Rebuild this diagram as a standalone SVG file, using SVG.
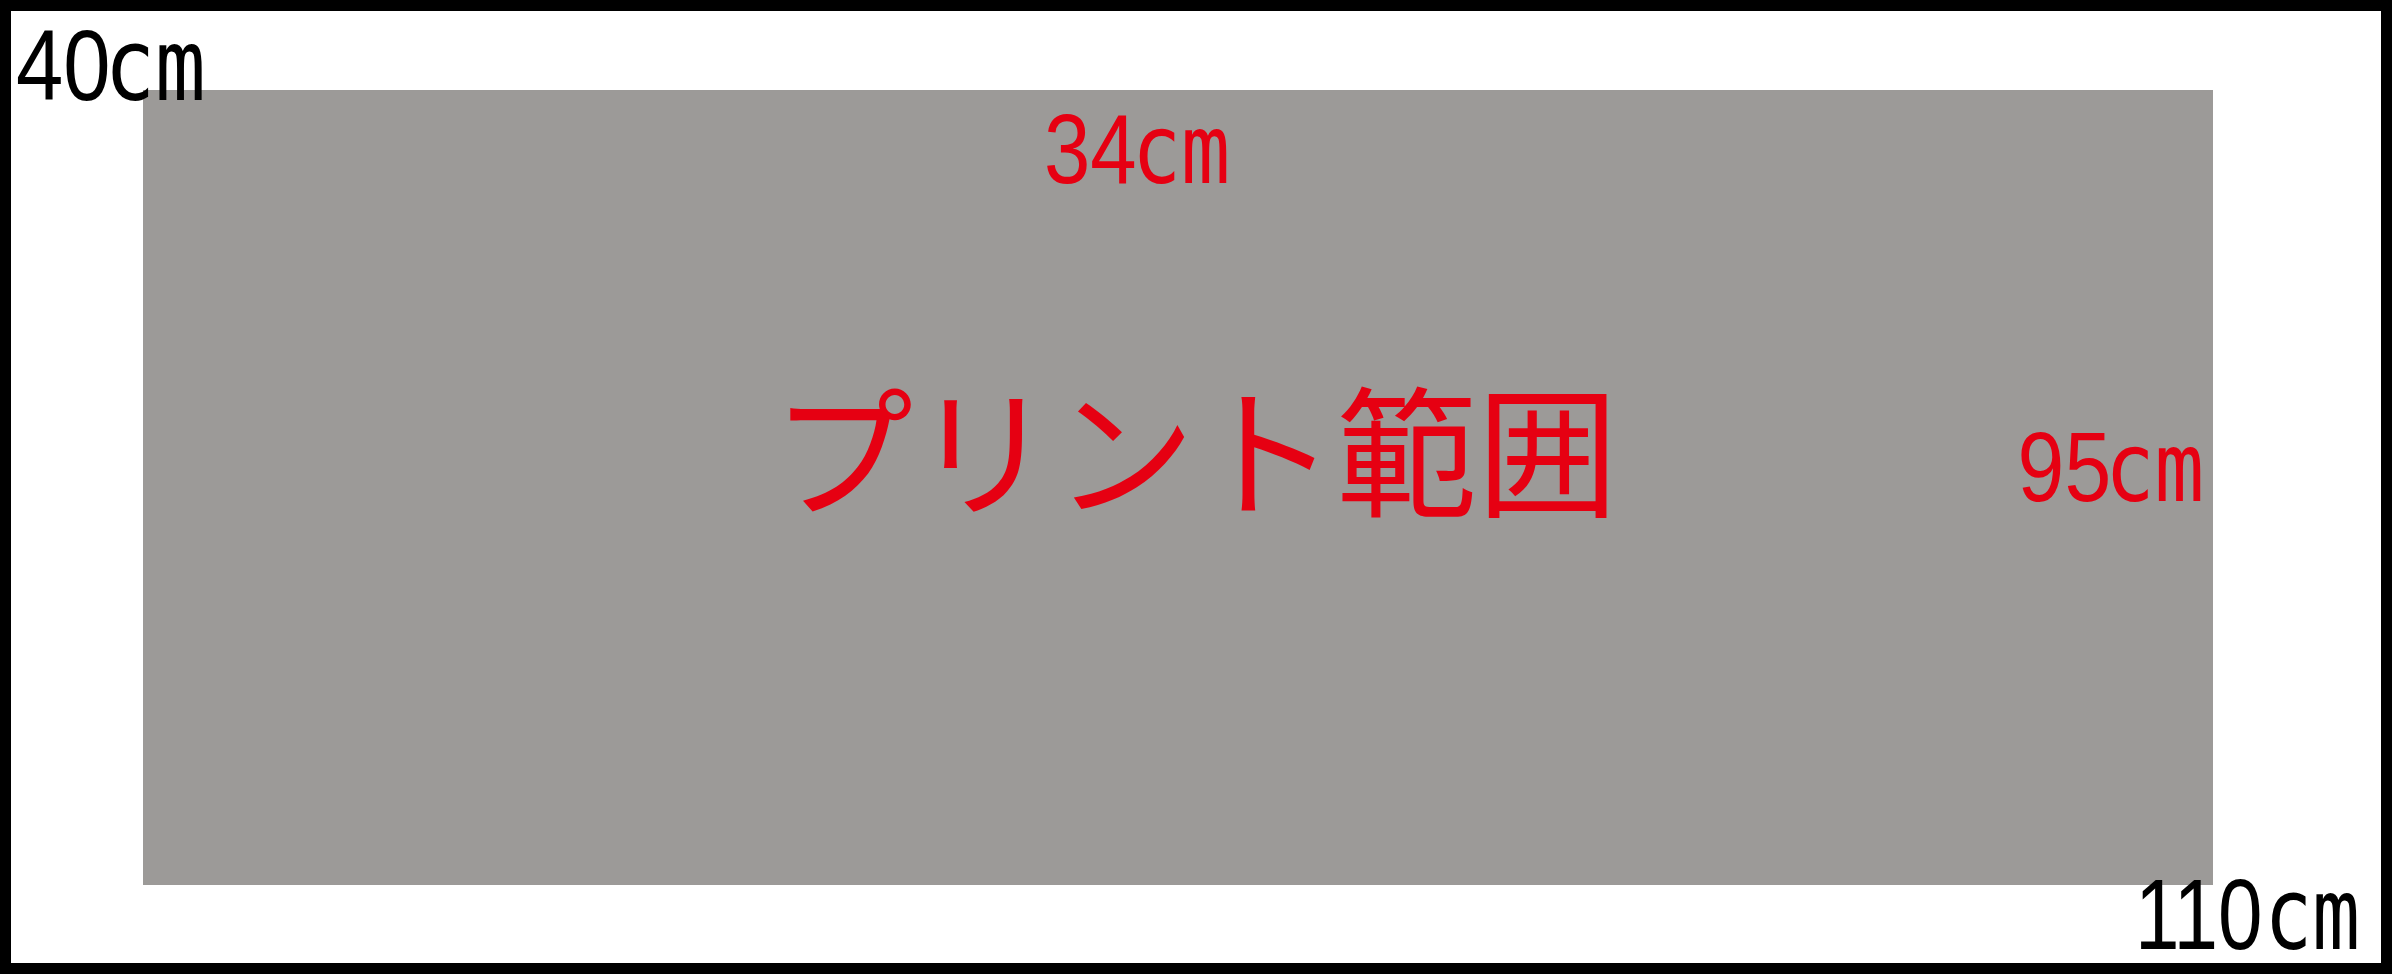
<svg xmlns="http://www.w3.org/2000/svg" width="2392" height="974" viewBox="0 0 2392 974">
<style>
.dim{font-family:"Liberation Sans",Arial,sans-serif;}
.unit{font-family:"DejaVu Sans Mono","Liberation Mono",monospace;}
.red{fill:#e60012;}
.blk{fill:#000000;}
.title{font-family:"Noto Sans CJK JP","Noto Sans CJK SC",sans-serif;font-weight:400;font-size:141px;fill:#e60012;}
</style>
<rect id="frame" x="5.5" y="5.5" width="2381" height="963" fill="#ffffff" stroke="#000000" stroke-width="11"/>
<g id="print-area">
<rect x="143" y="90" width="2070" height="795" fill="#9c9a98"/>
<text class="title" x="772" y="506">プリント範囲</text>
</g>
<g id="labels">
<text class="dim blk" transform="translate(16,100) scale(0.85,1)" x="0" y="0" font-size="100">40<tspan class="unit" x="104" font-size="99">cm</tspan></text>
<text class="dim red" transform="translate(1044,183) scale(0.85,1)" x="0" y="0" font-size="98">34<tspan class="unit" x="103.5" font-size="96">cm</tspan></text>
<text class="dim red" transform="translate(2017.6,501) scale(0.85,1)" x="0" y="0" font-size="99">95<tspan class="unit" x="102.8" font-size="97">cm</tspan></text>
<text class="dim blk" transform="translate(2135,949) scale(0.8,1)" x="0" y="0" font-size="100">110<tspan class="unit" x="162" font-size="99">cm</tspan></text>
</g>
</svg>
